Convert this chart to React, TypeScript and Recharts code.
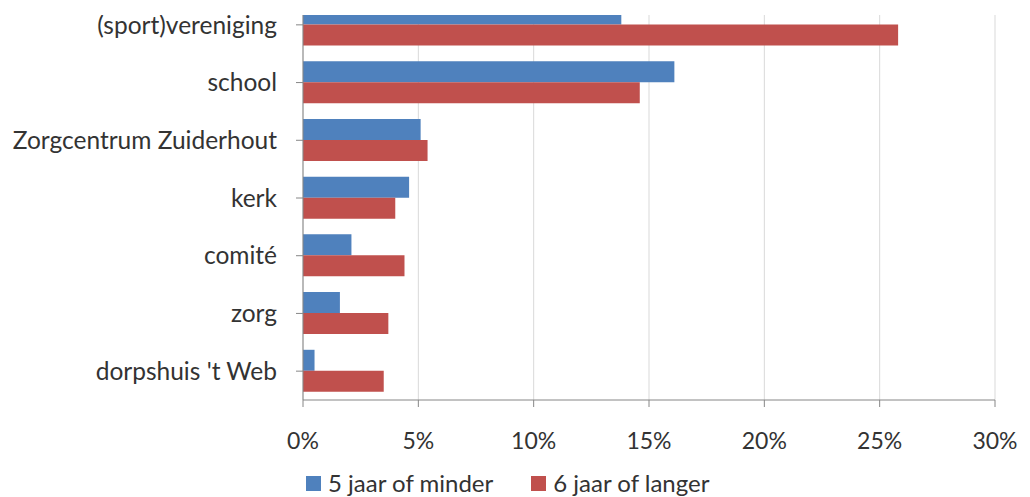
import { BarChart, Bar, XAxis, YAxis, CartesianGrid } from 'recharts';

const categories = [
  '(sport)vereniging',
  'school',
  'Zorgcentrum Zuiderhout',
  'kerk',
  'comité',
  'zorg',
  "dorpshuis 't Web",
];
const vijfJaarOfMinder = [13.8, 16.1, 5.1, 4.6, 2.1, 1.6, 0.5];
const zesJaarOfLanger = [25.8, 14.6, 5.4, 4.0, 4.4, 3.7, 3.5];
const xTicks = [0, 5, 10, 15, 20, 25, 30];

const SERIES = [
  { key: 'a', label: '5 jaar of minder', color: '#4F81BD' },
  { key: 'b', label: '6 jaar of langer', color: '#C0504D' },
];

const data = categories.map((name, i) => ({
  name,
  a: vijfJaarOfMinder[i],
  b: zesJaarOfLanger[i],
}));

const FONT = 'Lato, "Open Sans", sans-serif';
const TEXT = '#333333';
const AXIS = '#868686';

export default function App() {
  return (
    <div
      style={{
        position: 'absolute',
        left: 0,
        top: 0,
        width: 1030,
        height: 497,
        overflow: 'hidden',
        background: '#fff',
        clipPath: 'inset(15px 0 0 0)',
      }}
    >
      <div style={{ position: 'absolute', left: 0, top: -4 }}>
        <BarChart
          width={1030}
          height={501}
          data={data}
          layout="vertical"
          margin={{ top: 0, right: 35, left: 0, bottom: 0 }}
          barCategoryGap="13%"
          barGap={0}
        >
          <CartesianGrid horizontal={false} stroke="#d9d9d9" strokeWidth={1} />
          <XAxis
            type="number"
            domain={[0, 30]}
            ticks={xTicks}
            tickFormatter={(v) => `${v}%`}
            height={97}
            axisLine={{ stroke: AXIS }}
            tickLine={{ stroke: AXIS }}
            tickSize={7}
            tickMargin={26}
            tick={{ fill: TEXT, fontSize: 23, fontFamily: FONT }}
          />
          <YAxis
            type="category"
            dataKey="name"
            width={303}
            axisLine={{ stroke: AXIS }}
            tickLine={{ stroke: AXIS }}
            tickSize={7}
            tickMargin={19}
            interval={0}
            tick={{ fill: TEXT, fontSize: 24.5, fontFamily: FONT }}
          />
          {SERIES.map((s) => (
            <Bar key={s.key} dataKey={s.key} name={s.label} fill={s.color} isAnimationActive={false} />
          ))}
        </BarChart>
      </div>
      <div
        style={{
          position: 'absolute',
          left: 306,
          top: 469,
          display: 'flex',
          fontFamily: FONT,
          fontSize: 24,
          color: TEXT,
          lineHeight: '28px',
        }}
      >
        {SERIES.map((s, i) => (
          <div key={s.key} style={{ display: 'flex', alignItems: 'center', marginRight: i === 0 ? 38 : 0 }}>
            <span style={{ width: 15, height: 15, background: s.color, marginRight: 7, display: 'inline-block' }} />
            <span>{s.label}</span>
          </div>
        ))}
      </div>
    </div>
  );
}
